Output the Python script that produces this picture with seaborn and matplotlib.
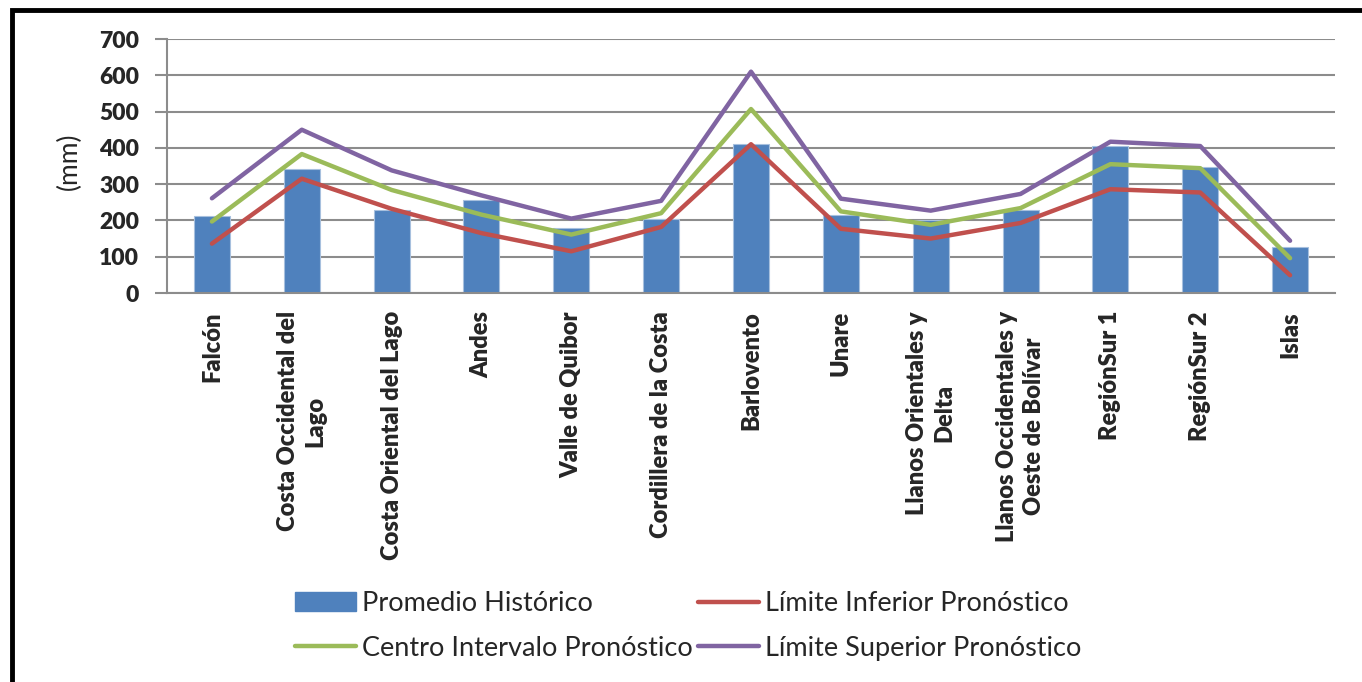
import numpy as np
import pandas as pd
import matplotlib
matplotlib.use("Agg")
import matplotlib.pyplot as plt
import seaborn as sns
from matplotlib.patches import Rectangle, Patch
from matplotlib.lines import Line2D

categories = ["Falcón", "Costa Occidental del\nLago", "Costa Oriental del Lago", "Andes",
              "Valle de Quibor", "Cordillera de la Costa", "Barlovento", "Unare",
              "Llanos Orientales y\nDelta", "Llanos Occidentales y\nOeste de Bolívar",
              "RegiónSur 1", "RegiónSur 2", "Islas"]
promedio = [211, 341, 229, 255, 179, 204, 410, 216, 200, 229, 406, 348, 128]
inferior = [136, 315, 232, 165, 115, 182, 410, 177, 150, 193, 286, 277, 49]
centro = [197, 383, 284, 216, 161, 220, 507, 225, 188, 234, 355, 344, 96]
superior = [261, 450, 338, 269, 205, 254, 610, 260, 227, 273, 417, 405, 144]
yticks = [0, 100, 200, 300, 400, 500, 600, 700]

c_bar = "#4F81BD"
c_inf = "#C0504D"
c_cen = "#9BBB59"
c_sup = "#8064A2"
grid_c = "#8C8C8C"

sns.set_theme(style="white")
plt.rcParams["font.family"] = ["Lato", "DejaVu Sans"]

fig = plt.figure(figsize=(13.62, 6.82), dpi=100)
ax = fig.add_axes([167/1362, 1-293/682, (1335-167)/1362, (293-39)/682])

df = pd.DataFrame({"cat": categories, "promedio": promedio})
sns.barplot(data=df, x="cat", y="promedio", color=c_bar, saturation=1, width=0.4,
            ax=ax, zorder=2)
for p in ax.patches:
    p.set_edgecolor("#A7C0DE")
    p.set_linewidth(0.8)

xs = np.arange(len(categories))
for vals, col in [(inferior, c_inf), (centro, c_cen), (superior, c_sup)]:
    sns.lineplot(x=xs, y=vals, color=col, linewidth=3.2, ax=ax, zorder=3,
                 solid_capstyle="round", solid_joinstyle="round")

ax.set_xlim(-0.5, len(categories) - 0.5)
ax.set_ylim(0, 700)
ax.set_yticks(yticks)
ax.set_yticklabels([str(v) for v in yticks], fontsize=16.5, fontweight=800)
ax.yaxis.grid(True, color=grid_c, linewidth=1.5, zorder=0)
ax.set_axisbelow(True)
ax.set_xlabel("")
ax.set_ylabel("(mm)", fontsize=19)
ax.yaxis.set_label_coords(-0.073, 0.52)

ax.set_xticks(xs)
ax.set_xticklabels(categories, rotation=90, fontsize=17, fontweight=800,
                   ha="center", va="top", multialignment="center", linespacing=1.3)
ax.tick_params(axis="x", which="major", length=0, pad=13)
ax.set_xticks(np.arange(-0.5, len(categories)), minor=True)
ax.tick_params(axis="x", which="minor", length=8, width=1.5, color=grid_c, direction="out")
ax.tick_params(axis="y", which="major", length=9, width=1.5, color=grid_c, direction="out",
               left=True, pad=11)

for s in ["top", "right"]:
    ax.spines[s].set_visible(False)
for s in ["left", "bottom"]:
    ax.spines[s].set_color(grid_c)
    ax.spines[s].set_linewidth(1.5)

handles = [Patch(facecolor=c_bar, edgecolor=c_bar),
           Line2D([0], [0], color=c_cen, linewidth=3.2),
           Line2D([0], [0], color=c_inf, linewidth=3.2),
           Line2D([0], [0], color=c_sup, linewidth=3.2)]
labels = ["Promedio Histórico", "Centro Intervalo Pronóstico",
          "Límite Inferior Pronóstico", "Límite Superior Pronóstico"]
fig.legend(handles, labels, loc="center", bbox_to_anchor=(688/1362, 1-626/682), ncol=2,
           frameon=False, fontsize=19.5, handlelength=2.25, handletextpad=0.22,
           columnspacing=0.2, labelspacing=0.72)

fig.patches.append(Rectangle((12/1362, -0.1), 1.2, 1 - 10/682 + 0.1, transform=fig.transFigure,
                             fill=False, edgecolor="black", linewidth=3.5))

fig.savefig("out.png", dpi=100)
